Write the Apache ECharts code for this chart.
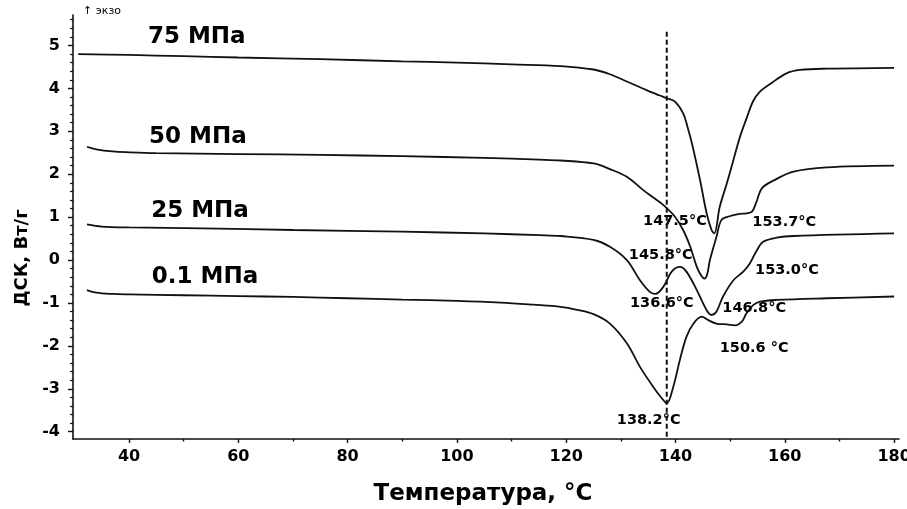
<!DOCTYPE html>
<html><head><meta charset="utf-8">
<script src="https://cdn.jsdelivr.net/npm/echarts@6/dist/echarts.min.js"></script>
<style>html,body{margin:0;padding:0;background:#fff}#c{width:907px;height:509px}</style>
</head><body><div id="c"></div>
<script>
// ---- data ----
const t75 = [30.7,40,50,60,75,90,100,110,119,125,128,131.1,134.7,137,138.4,139.9,141.4,142.2,143.0,144.5,145.7,146.6,147.1,148.1,149.4,150.6,151.8,153.0,154.2,155.5,157.3,160.3,162.8,167.7,180];
const v75 = [4.80,4.78,4.75,4.72,4.68,4.63,4.60,4.56,4.52,4.44,4.33,4.16,3.96,3.84,3.77,3.69,3.42,3.10,2.72,1.86,1.09,0.70,0.62,1.24,1.79,2.33,2.87,3.30,3.70,3.93,4.10,4.35,4.43,4.46,4.48];

const t50 = [32.3,34,37,40,45,60,75,90,105,115,119,125,128,131.1,134.1,136,137.8,139.9,141.4,142.7,143.9,144.7,145.3,145.8,146.3,147.5,148.4,149.9,151.5,153.0,154.0,154.8,155.8,157.9,161.6,167.7,180];
const v50 = [2.64,2.58,2.53,2.51,2.49,2.47,2.45,2.42,2.38,2.34,2.32,2.25,2.12,1.94,1.63,1.45,1.28,1.01,0.70,0.31,-0.16,-0.36,-0.43,-0.33,0.0,0.54,0.93,1.02,1.07,1.09,1.13,1.35,1.67,1.85,2.06,2.16,2.20];

const t25 = [32.3,35,40,53.5,70,90,105,115,119,125,128,131.1,133.5,135.3,136.3,137.8,139.3,140.8,142.0,143.9,145.7,146.6,147.5,148.7,150.6,152.4,153.6,154.9,156.1,158.5,161.6,180];
const v25 = [0.83,0.78,0.76,0.74,0.70,0.66,0.62,0.58,0.56,0.47,0.31,0.0,-0.47,-0.74,-0.79,-0.62,-0.27,-0.16,-0.27,-0.70,-1.17,-1.28,-1.20,-0.85,-0.47,-0.27,-0.08,0.23,0.43,0.52,0.56,0.62];

const t01 = [32.3,34,37,40,50,60,70,80,90,100,108,114,119,122,125,128,131.1,133.5,135.9,137.5,138.4,139.6,140.8,142.0,143.3,144.8,146.0,147.5,149.4,150.9,152.1,153.0,154.2,155.5,158.5,167.7,180];
const v01 = [-0.70,-0.76,-0.79,-0.80,-0.82,-0.84,-0.86,-0.89,-0.92,-0.95,-0.99,-1.04,-1.09,-1.16,-1.26,-1.48,-1.94,-2.49,-2.95,-3.22,-3.34,-2.95,-2.33,-1.79,-1.48,-1.32,-1.40,-1.48,-1.50,-1.52,-1.44,-1.24,-1.05,-0.97,-0.93,-0.89,-0.85];

const curveNames = ['75 МПа','50 МПа','25 МПа','0.1 МПа'];
const curveNameT = [52.4,52.6,53.0,53.9];
const curveNameV = [5.20,2.87,1.14,-0.40];

const peakLabels = ['147.5°C','153.7°C','145.8°C','153.0°C','136.6°C','146.8°C','150.6 °C','138.2°C'];
const peakT = [139.9,159.9,137.3,160.4,137.5,154.4,154.4,135.1];
const peakV = [0.91,0.89,0.12,-0.23,-1.01,-1.13,-2.06,-3.73];

const dashT = [138.4,138.4];
const dashV = [5.32,-4.17];

const xMajorTicks = [40,60,80,100,120,140,160,180];
const xMinorTicks = [50,70,90,110,130,150,170];
const yMajorTicks = [-4,-3,-2,-1,0,1,2,3,4,5];
const yMinorTicks = [];
for (let i = -20; i <= 28; i++) { if (i % 5 !== 0) yMinorTicks.push(i / 5); }

const xTitle = 'Температура, °C';
const yTitle = 'ДСК, Вт/г';
const exoText = '↑ экзо';

// ---- chart ----
const FONT = 'DejaVu Sans';
const INK = '#000';
const zip = (a, b) => a.map((v, i) => [v, b[i]]);
const lineSeries = (t, v) => ({
  type: 'line', data: zip(t, v), showSymbol: false, smooth: 0.35,
  lineStyle: { color: '#111', width: 1.8 }, z: 2, silent: true
});

const xRange = { min: 29.75, max: 180.9 };
const yRange = { min: -4.17, max: 5.71 };

const chart = echarts.init(document.getElementById('c'), null, { renderer: 'canvas' });
chart.setOption({
  animation: false,
  backgroundColor: '#fff',
  grid: { left: 73, right: 8, top: 15, bottom: 70, containLabel: false, outerBoundsMode: 'none' },
  xAxis: [
    { type: 'value', ...xRange,
      axisLine: { onZero: false, lineStyle: { color: '#111', width: 1.6 } },
      axisTick: { customValues: xMajorTicks, length: 4, lineStyle: { color: '#111', width: 1.4 } },
      axisLabel: { customValues: xMajorTicks, margin: 10, color: INK, fontFamily: FONT, fontWeight: 'bold', fontSize: 16 },
      splitLine: { show: false } },
    { type: 'value', ...xRange, position: 'bottom',
      axisLine: { show: false, onZero: false },
      axisTick: { customValues: xMinorTicks, length: 2.5, lineStyle: { color: '#111', width: 1.4 } },
      axisLabel: { show: false }, splitLine: { show: false } }
  ],
  yAxis: [
    { type: 'value', ...yRange,
      axisLine: { show: true, onZero: false, lineStyle: { color: '#111', width: 1.6 } },
      axisTick: { show: true, customValues: yMajorTicks, length: 5, lineStyle: { color: '#111', width: 1.4 } },
      axisLabel: { customValues: yMajorTicks, margin: 13, color: INK, fontFamily: FONT, fontWeight: 'bold', fontSize: 16 },
      splitLine: { show: false } },
    { type: 'value', ...yRange, position: 'left',
      axisLine: { show: false, onZero: false },
      axisTick: { show: true, customValues: yMinorTicks, length: 3, lineStyle: { color: '#111', width: 1.2 } },
      axisLabel: { show: false }, splitLine: { show: false } }
  ],
  series: [
    lineSeries(t75, v75),
    lineSeries(t50, v50),
    lineSeries(t25, v25),
    lineSeries(t01, v01),
    { type: 'scatter', symbolSize: 0, z: 3, silent: true, itemStyle: { opacity: 1 },
      data: curveNames.map((n, i) => ({ value: [curveNameT[i], curveNameV[i]], name: n })),
      label: { show: true, position: 'inside', formatter: p => p.name, color: INK, opacity: 1,
               fontFamily: FONT, fontWeight: 'bold', fontSize: 23 } },
    { type: 'scatter', symbolSize: 0, z: 3, silent: true, itemStyle: { opacity: 1 },
      data: peakLabels.map((n, i) => ({ value: [peakT[i], peakV[i]], name: n })),
      label: { show: true, position: 'inside', formatter: p => p.name, color: INK, opacity: 1,
               fontFamily: FONT, fontWeight: 'bold', fontSize: 14.5 } },
    { type: 'line', data: zip(dashT, dashV), showSymbol: false, z: 5, silent: true,
      lineStyle: { color: '#111', width: 2, type: [5, 3] } }
  ],
  graphic: [
    { type: 'text', x: 22, y: 258, rotation: Math.PI / 2, silent: true,
      style: { text: yTitle, fill: INK, font: 'bold 18px "DejaVu Sans"', align: 'center', verticalAlign: 'middle' } },
    { type: 'text', x: 483, y: 494, silent: true,
      style: { text: xTitle, fill: INK, font: 'bold 23px "DejaVu Sans"', align: 'center', verticalAlign: 'middle' } },
    { type: 'text', x: 83, y: 11, silent: true,
      style: { text: exoText, fill: INK, font: '11px "DejaVu Sans"', align: 'left', verticalAlign: 'middle' } }
  ]
});
</script>
</body></html>
